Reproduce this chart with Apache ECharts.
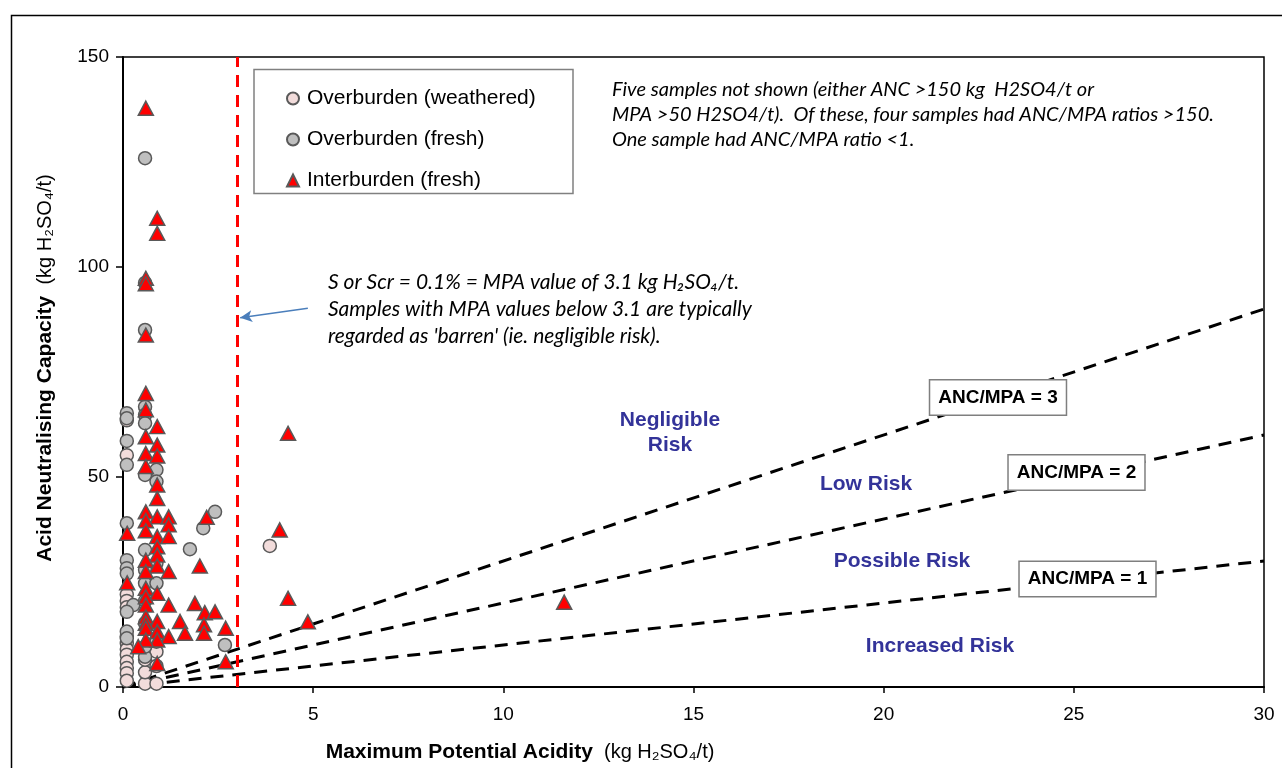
<!DOCTYPE html>
<html>
<head>
<meta charset="utf-8">
<script src="https://cdn.jsdelivr.net/npm/echarts@6/dist/echarts.min.js"></script>
<style>html,body{margin:0;padding:0;background:#fff}#c{width:1282px;height:768px}</style>
</head>
<body>
<div id="c"></div>
<script>
// ---- data ----
const seriesNames = ['Overburden (weathered)', 'Overburden (fresh)', 'Interburden (fresh)'];
const weathered = [
  [0.1,55.2],[0.1,22],[0.1,20.5],[0.1,19],[0.1,12],[0.1,10.4],[0.1,9],[0.1,7.7],[0.1,6],[0.1,4.5],
  [0.1,3.3],[0.1,1.5],[0.58,0.8],[0.58,3.5],[0.58,6.5],[0.88,0.8],[0.88,5],[0.88,8.4],[3.86,33.6],[0.1,63.5]
];
const fresh = [
  [0.58,125.9],[0.58,96.2],[0.58,85],[0.1,65.2],[0.1,64],[0.1,58.6],[0.1,52.9],[0.58,66.7],[0.58,64.8],
  [0.58,62.8],[0.58,50.5],[0.88,51.7],[0.88,48.9],[2.42,41.7],[2.11,37.8],[0.1,39],[1.76,32.8],[0.1,30.2],
  [0.1,28.3],[0.1,27],[0.58,32.6],[0.58,27.9],[0.58,24.7],[0.88,24.7],[0.27,19.5],[0.1,17.9],[0.1,13.2],
  [0.1,11.6],[0.58,7.2],[0.58,9.6],[0.88,10.8],[2.68,10],[0.58,15.2],[0.58,20.5],[0.88,29.5]
];
const interburden = [
  [0.6,137.8],[0.9,111.6],[0.9,108],[0.6,97.3],[0.6,96],[0.6,83.8],[0.6,69.9],[0.6,66],[0.9,62],[0.6,59.6],
  [0.9,57.6],[0.6,55.6],[0.9,55],[0.6,52.5],[0.9,48.1],[0.9,44.9],[0.6,41.7],[0.9,40.5],[1.2,40.5],[0.6,39.6],
  [1.2,38.6],[2.2,40.4],[0.11,36.6],[0.6,37.2],[0.9,35.8],[1.2,35.8],[0.9,33.4],[0.9,31.4],[0.6,30.2],[0.9,28.8],
  [2.02,28.8],[1.2,27.5],[0.6,27.5],[0.11,24.8],[0.6,23.5],[0.9,22.3],[0.6,21.5],[1.2,19.5],[0.6,19.5],[1.89,19.9],
  [2.15,17.7],[2.42,17.9],[1.5,15.6],[0.6,16.7],[0.9,15.6],[1.63,12.8],[2.13,14.8],[2.13,12.8],[2.7,14],[0.6,15.2],
  [0.6,14],[0.9,13.2],[1.2,12],[0.9,11.2],[0.6,11.2],[0.4,9.6],[0.9,5.6],[2.7,6],[4.12,37.4],[4.34,21.1],
  [4.34,60.4],[4.86,15.5],[11.6,20.2]
];
const ratios = [1, 2, 3];
const ratioLabels = ['ANC/MPA = 1', 'ANC/MPA = 2', 'ANC/MPA = 3'];
const barrenMPA = 3.0;
const arrowFrom = [4.86, 90.2];
const arrowTo = [3.08, 87.9];
const xTicks = [0, 5, 10, 15, 20, 25, 30];
const yTicks = [0, 50, 100, 150];
const regionLabels = ['Negligible\nRisk', 'Low Risk', 'Possible Risk', 'Increased Risk'];
const note1 = 'Five samples not shown (either ANC >150 kg  H2SO4/t or\nMPA >50 H2SO4/t).  Of these, four samples had ANC/MPA ratios >150.\nOne sample had ANC/MPA ratio <1.';
const note2 = 'S or Scr = 0.1% = MPA value of 3.1 kg H\u2082SO\u2084/t.\nSamples with MPA values below 3.1 are typically\nregarded as \'barren\' (ie. negligible risk).';

// ---- chart ----
const chart = echarts.init(document.getElementById('c'));
const xMin = xTicks[0], xMax = xTicks[xTicks.length - 1];
const yMin = yTicks[0], yMax = yTicks[yTicks.length - 1];
const FONT = '"Liberation Sans", Arial, sans-serif';
const NOTEFONT = 'Lato, "Open Sans", sans-serif';
const border = '#595959';

const ratioSeries = ratios.map((k, i) => ({
  type: 'line', name: ratioLabels[i], silent: true, symbol: 'none', z: 1,
  data: [[xMin, 0], [xMax, k * xMax]],
  lineStyle: { color: '#000', width: 3, type: [13, 9] }
}));

const regionColor = '#333399';
function regionText(x, y, t) {
  return { type: 'text', x: x, y: y, z: 50,
    style: { text: t, font: 'bold 21px ' + FONT, fill: regionColor, align: 'center', verticalAlign: 'middle', lineHeight: 25 } };
}
function ratioBox(x, y, t) {
  return { type: 'text', x: x, y: y, z: 60,
    style: { text: t, font: 'bold 19px ' + FONT, fill: '#000', align: 'center', verticalAlign: 'middle',
      backgroundColor: '#fff', borderColor: '#7f7f7f', borderWidth: 1.5, padding: [8, 8, 7, 8] } };
}

chart.setOption({
  animation: false,
  backgroundColor: '#fff',
  grid: { left: 123, top: 57, right: 18, bottom: 81, show: true, borderColor: '#000', borderWidth: 1.5, backgroundColor: 'transparent' },
  xAxis: {
    type: 'value', min: xMin, max: xMax, interval: 5,
    axisLine: { show: true, lineStyle: { color: '#000', width: 2 } },
    axisTick: { show: true, inside: false, length: 6, lineStyle: { color: '#000', width: 1.5 } },
    axisLabel: { color: '#000', fontSize: 19, fontFamily: FONT, margin: 18 },
    splitLine: { show: false }
  },
  yAxis: {
    type: 'value', min: yMin, max: yMax, interval: 50,
    axisLine: { show: true, lineStyle: { color: '#000', width: 2 } },
    axisTick: { show: true, inside: false, length: 7, lineStyle: { color: '#000', width: 1.5 } },
    axisLabel: { color: '#000', fontSize: 19, fontFamily: FONT, margin: 14 },
    splitLine: { show: false }
  },
  legend: {
    data: seriesNames, orient: 'vertical', left: 281, top: 83, itemGap: 20, z: 10,
    itemWidth: 12, itemHeight: 12, selectedMode: false,
    textStyle: { color: '#000', fontSize: 21, fontFamily: FONT, lineHeight: 20, padding: [0, 0, 0, 3] }
  },
  series: ratioSeries.concat([
    {
      type: 'scatter', name: seriesNames[0], data: weathered, symbol: 'circle', symbolSize: 13, z: 3,
      itemStyle: { color: '#f2dcdb', borderColor: border, borderWidth: 1.5, opacity: 1 },
      markLine: {
        silent: true, symbol: ['none', 'none'], label: { show: false }, animation: false,
        data: [
          { xAxis: barrenMPA, lineStyle: { color: '#ff0000', width: 3, type: [12, 8] } },
          [ { coord: arrowFrom, symbol: 'none', lineStyle: { color: '#4a7ebb', width: 1.5, type: 'solid' } },
            { coord: arrowTo, symbol: 'arrow', symbolSize: [9, 12] } ]
        ]
      }
    },
    {
      type: 'scatter', name: seriesNames[1], data: fresh, symbol: 'circle', symbolSize: 13, z: 4,
      itemStyle: { color: '#bfbfbf', borderColor: border, borderWidth: 1.5, opacity: 1 }
    },
    {
      type: 'scatter', name: seriesNames[2], data: interburden, symbol: 'triangle', symbolSize: [15, 14], z: 5,
      itemStyle: { color: '#ff0000', borderColor: border, borderWidth: 1.5, opacity: 1 }
    }
  ]),
  graphic: [
    { type: 'rect', z: 0, silent: true, shape: { x: 11.5, y: 15.5, width: 1400, height: 1000 },
      style: { fill: 'none', stroke: '#000', lineWidth: 1.5 } },
    { type: 'rect', z: 2, silent: true, shape: { x: 254, y: 69.5, width: 319, height: 124 },
      style: { fill: '#fff', stroke: '#808080', lineWidth: 1.5 } },
    { type: 'text', x: 612, y: 77.5, z: 50,
      style: { text: note1, font: 'italic 20px ' + NOTEFONT, fill: '#000', verticalAlign: 'top', lineHeight: 25 } },
    { type: 'text', x: 328, y: 268.5, z: 50,
      style: { text: note2, font: 'italic 21px ' + NOTEFONT, fill: '#000', verticalAlign: 'top', lineHeight: 27 } },
    regionText(670, 433, regionLabels[0]),
    regionText(866, 484, regionLabels[1]),
    regionText(902, 561, regionLabels[2]),
    regionText(940, 646, regionLabels[3]),
    ratioBox(998, 397.5, ratioLabels[2]),
    ratioBox(1076.5, 472.5, ratioLabels[1]),
    ratioBox(1087.5, 579, ratioLabels[0]),
    { type: 'text', x: 520, y: 752, z: 50,
      style: { text: '{b|Maximum Potential Acidity}{n|  (kg H\u2082SO\u2084/t)}', align: 'center', verticalAlign: 'middle',
        rich: { b: { font: 'bold 21px ' + FONT, fill: '#000' }, n: { font: '20px ' + FONT, fill: '#000' } } } },
    { type: 'text', x: 45, y: 368, rotation: Math.PI / 2, z: 50,
      style: { text: '{b|Acid Neutralising Capacity}{n|  (kg H\u2082SO\u2084/t)}', align: 'center', verticalAlign: 'middle',
        rich: { b: { font: 'bold 21px ' + FONT, fill: '#000' }, n: { font: '20px ' + FONT, fill: '#000' } } } }
  ]
});
</script>
</body>
</html>
